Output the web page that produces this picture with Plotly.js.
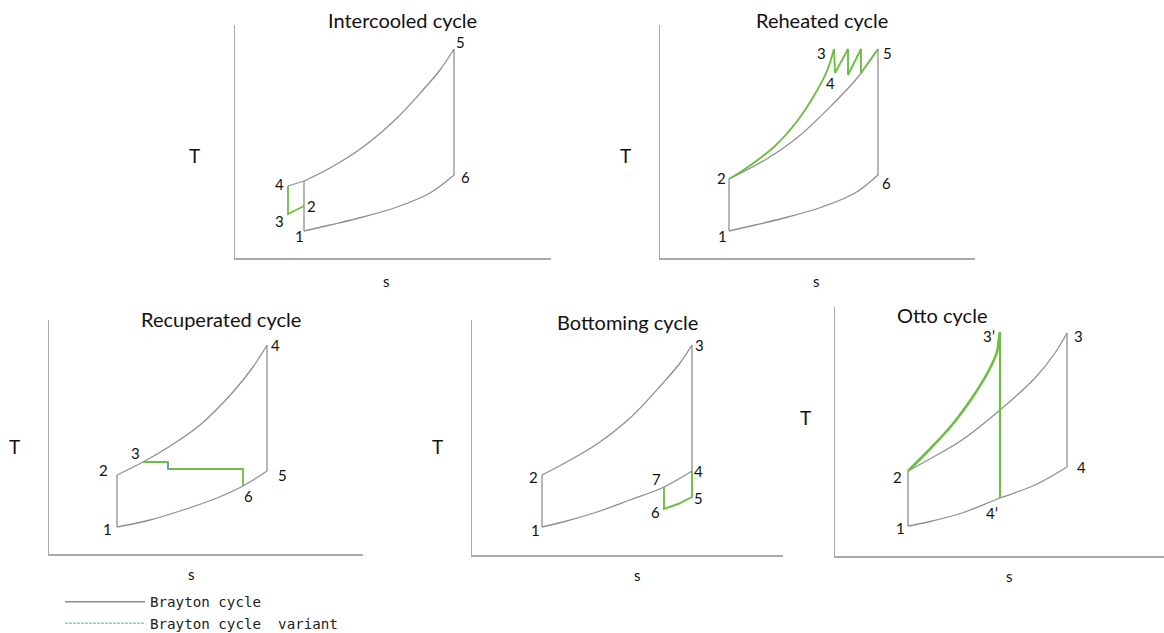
<!DOCTYPE html>
<html>
<head>
<meta charset="utf-8">
<script src="https://cdn.plot.ly/plotly-3.0.1.min.js"></script>
<style>
  html, body { margin: 0; padding: 0; background: #fff; }
  #chart { width: 1164px; height: 633px; }
</style>
</head>
<body>
<div id="chart"></div>
<script>
// ---------- Intercooled cycle (s, T in arbitrary units) ----------
const icStates = ['1', '2', '3', '4', '5', '6'];
const icS = [69, 69, 53, 53, 219, 219];
const icT = [27, 52, 44, 72, 209, 83];
const icHeatS = [69, 95, 128, 162, 188, 205, 219];
const icHeatT = [77, 90, 111, 140, 168, 188, 209];
const icRejS = [69, 95, 128, 162, 195, 219];
const icRejT = [27, 33, 41, 51, 65, 83];

// ---------- Reheated cycle ----------
const rhStates = ['1', '2', '3', '4', '5', '6'];
const rhS = [69, 69, 174, 175, 218, 218];
const rhT = [27, 79, 209, 185, 209, 83];
const rhHeatS = [69, 105, 138, 172, 198, 218];
const rhHeatT = [79, 98, 121, 153, 181, 209];
const rhRejS = [69, 95, 128, 162, 195, 218];
const rhRejT = [27, 33, 41, 51, 65, 83];
const rhBurnS = [69, 88, 115, 138, 155, 167, 174];
const rhBurnT = [79, 91, 112, 138, 164, 187, 209];
const rhZigS = [174, 175, 188, 188, 201, 201, 218];
const rhZigT = [209, 185, 209, 183, 209, 185, 209];

// ---------- Recuperated cycle ----------
const rcStates = ['1', '2', '3', '4', '5', '6'];
const rcS = [68, 68, 94, 218, 218, 194];
const rcT = [27, 79, 92, 209, 83, 68];
const rcHeatS = [68, 94, 118, 151, 184, 204, 218];
const rcHeatT = [79, 92, 106, 129, 162, 187, 209];
const rcRejS = [68, 101, 134, 168, 194, 218];
const rcRejT = [27, 34, 44, 56, 68, 83];
const rcRecupS = [94, 119, 119, 194, 194];
const rcRecupT = [92, 92, 85, 85, 68];
const rcStepS = [119, 119];
const rcStepT = [92, 85];

// ---------- Bottoming cycle ----------
const btStates = ['1', '2', '3', '4', '5', '6', '7'];
const btS = [70, 70, 220, 220, 220, 192, 192];
const btT = [28, 80, 210, 84, 58, 46, 68];
const btHeatS = [70, 91, 125, 158, 191, 208, 220];
const btHeatT = [80, 91, 111, 137, 172, 192, 210];
const btRejS = [70, 91, 125, 158, 192, 220];
const btRejT = [28, 33, 43, 55, 68, 84];
const btLoopS = [192, 192, 206, 220, 220];
const btLoopT = [68, 46, 51, 58, 84];

// ---------- Otto cycle ----------
const otStates = ['1', '2', '3', '4', '3\u2019', '4\u2019'];
const otS = [73, 73, 232, 232, 165, 165];
const otT = [30, 85, 223, 89, 224, 58];
const otHeatS = [73, 93, 127, 165, 200, 220, 232];
const otHeatT = [85, 96, 116, 146, 178, 203, 223];
const otRejS = [73, 93, 127, 165, 200, 232];
const otRejT = [30, 34, 43, 58, 71, 89];
const otCombS = [73, 93, 117, 137, 153, 162, 164, 165];
const otCombT = [85, 105, 131, 158, 184, 204, 218, 224];

const panelTitles = ['Intercooled cycle', 'Reheated cycle', 'Recuperated cycle', 'Bottoming cycle', 'Otto cycle'];
const seriesNames = ['Brayton cycle', 'Brayton cycle\u00A0 variant'];

// ---------- drawing ----------
const W = 1164, H = 633;
const GRAY = '#8f8f8f', GREEN = '#6dbd45', BLUE = '#5b9bd5';
const FONT = 'Lato, "Open Sans", sans-serif';
const traces = [];
const annotations = [];

const xid = i => (i === 1 ? 'x' : 'x' + i);
const yid = i => (i === 1 ? 'y' : 'y' + i);

function path(ax, s, T, color, width, shape) {
  traces.push({
    type: 'scatter', mode: 'lines', x: s, y: T,
    xaxis: xid(ax), yaxis: yid(ax), showlegend: false, hoverinfo: 'skip',
    line: { color: color, width: width, shape: shape || 'linear', smoothing: 1 }
  });
}
// straight segment through named states
function through(ax, S, T, names, labels, color, width) {
  const idx = labels.map(l => names.indexOf(l));
  path(ax, idx.map(i => S[i]), idx.map(i => T[i]), color, width);
}
function stateLabels(ax, S, T, names, nudge) {
  names.forEach((n, i) => {
    const d = nudge[n] || [0, 0];
    annotations.push({
      x: S[i], y: T[i], xref: xid(ax), yref: yid(ax), text: n, showarrow: false,
      xanchor: 'center', yanchor: 'middle',
      xshift: d[0], yshift: -d[1], font: { family: FONT, size: 15, color: '#111' }
    });
  });
}

// Intercooled
path(1, [icS[0], icHeatS[0]], [icT[0], icHeatT[0]], GRAY, 1.3);
path(1, icHeatS, icHeatT, GRAY, 1.3, 'spline');
through(1, icS, icT, icStates, ['5', '6'], GRAY, 1.3);
path(1, icRejS, icRejT, GRAY, 1.3, 'spline');
path(1, [icS[3], icHeatS[0]], [icT[3], icHeatT[0]], GRAY, 1.3);
through(1, icS, icT, icStates, ['2', '3', '4'], GREEN, 1.8);
stateLabels(1, icS, icT, icStates, { '1': [-5, 5], '2': [7, 0], '3': [-9, 7], '4': [-9, -2], '5': [6, -7], '6': [11, 2] });

// Reheated
through(2, rhS, rhT, rhStates, ['1', '2'], GRAY, 1.3);
path(2, rhHeatS, rhHeatT, GRAY, 1.3, 'spline');
through(2, rhS, rhT, rhStates, ['5', '6'], GRAY, 1.3);
path(2, rhRejS, rhRejT, GRAY, 1.3, 'spline');
path(2, rhBurnS, rhBurnT, GREEN, 1.9, 'spline');
path(2, rhZigS, rhZigT, GREEN, 1.9);
stateLabels(2, rhS, rhT, rhStates, { '1': [-7, 5], '2': [-8, -1], '3': [-13, 4], '4': [-5, 10], '5': [9, 4], '6': [8, 8] });

// Recuperated
through(3, rcS, rcT, rcStates, ['1', '2'], GRAY, 1.3);
path(3, rcHeatS, rcHeatT, GRAY, 1.3, 'spline');
through(3, rcS, rcT, rcStates, ['4', '5'], GRAY, 1.3);
path(3, rcRejS, rcRejT, GRAY, 1.3, 'spline');
path(3, rcRecupS, rcRecupT, GREEN, 1.8);
path(3, rcStepS, rcStepT, BLUE, 1.6);
stateLabels(3, rcS, rcT, rcStates, { '1': [-10, 2], '2': [-14, -5], '3': [-8, -9], '4': [8, 0], '5': [15, 4], '6': [5, 10] });

// Bottoming
through(4, btS, btT, btStates, ['1', '2'], GRAY, 1.3);
path(4, btHeatS, btHeatT, GRAY, 1.3, 'spline');
through(4, btS, btT, btStates, ['3', '4'], GRAY, 1.3);
path(4, btRejS, btRejT, GRAY, 1.3, 'spline');
path(4, btLoopS, btLoopT, GREEN, 1.9);
stateLabels(4, btS, btT, btStates, { '1': [-7, 3], '2': [-9, 2], '3': [7, 0], '4': [6, 0], '5': [6, 1], '6': [-9, 3], '7': [-8, -8] });

// Otto
through(5, otS, otT, otStates, ['1', '2'], GRAY, 1.3);
path(5, otHeatS, otHeatT, GRAY, 1.3, 'spline');
through(5, otS, otT, otStates, ['3', '4'], GRAY, 1.3);
path(5, otRejS, otRejT, GRAY, 1.3, 'spline');
path(5, otCombS, otCombT, GREEN, 2.6, 'spline');
through(5, otS, otT, otStates, ['3\u2019', '4\u2019'], GREEN, 2.2);
stateLabels(5, otS, otT, otStates, { '1': [-8, 2], '2': [-11, 6], '3': [11, 3], '4': [14, 0], '3\u2019': [-11, 4], '4\u2019': [-8, 15] });

// legend entries
traces.push({ type: 'scatter', mode: 'lines', x: [null], y: [null], name: seriesNames[0],
  line: { color: '#8a8a8a', width: 1.3 }, hoverinfo: 'skip' });
traces.push({ type: 'scatter', mode: 'lines', x: [null], y: [null], name: seriesNames[1],
  line: { color: '#80dc80', width: 1.5, dash: '3px,1px' }, hoverinfo: 'skip' });

// panel frames: [left, right] and [bottom, top] in page pixels
const frames = [
  [[235, 551], [258, 25]],
  [[660, 975], [258, 25]],
  [[49, 363], [554, 320]],
  [[472, 783], [555, 320]],
  [[835, 1164], [556, 307]]
];
const titlePos = [[402, 20], [822, 20], [221, 319], [627, 322], [942, 315]];
const tPos = [[194, 155], [625, 155], [14, 446], [437, 446], [805, 417]];
const sPos = [[386, 281], [816, 281], [191, 574], [637, 575], [1009, 576]];

const layout = {
  width: W, height: H, margin: { l: 0, r: 0, t: 0, b: 0, autoexpand: false },
  paper_bgcolor: '#fff', plot_bgcolor: 'rgba(0,0,0,0)',
  showlegend: true,
  legend: {
    x: 60 / W, y: 1 - 586 / H, xanchor: 'left', yanchor: 'top',
    font: { family: '"DejaVu Sans Mono", monospace', size: 14.2, color: '#222' },
    itemwidth: 80, bgcolor: 'rgba(0,0,0,0)', tracegroupgap: 0, maxheight: 120
  },
  annotations: annotations
};

const px2x = p => p / W;
const px2y = p => 1 - p / H;

frames.forEach((f, k) => {
  const i = k + 1;
  const axBase = { showline: true, linecolor: '#a9a9a9', linewidth: 1.5, showgrid: false,
    zeroline: false, showticklabels: false, ticks: '', fixedrange: true };
  layout['xaxis' + (i === 1 ? '' : i)] = Object.assign({}, axBase, {
    domain: [px2x(f[0][0]), px2x(f[0][1])], range: [0, f[0][1] - f[0][0]], anchor: yid(i)
  });
  layout['yaxis' + (i === 1 ? '' : i)] = Object.assign({}, axBase, {
    domain: [px2y(f[1][0]), px2y(f[1][1])], range: [0, f[1][0] - f[1][1]], anchor: xid(i)
  });
  const centred = { xref: 'paper', yref: 'paper', showarrow: false, xanchor: 'center', yanchor: 'middle' };
  annotations.push(Object.assign({}, centred, { x: px2x(titlePos[k][0]), y: px2y(titlePos[k][1]),
    text: panelTitles[k], font: { family: FONT, size: 20, color: '#111' } }));
  annotations.push(Object.assign({}, centred, { x: px2x(tPos[k][0]), y: px2y(tPos[k][1]),
    text: 'T', font: { family: FONT, size: 19, color: '#111' } }));
  annotations.push(Object.assign({}, centred, { x: px2x(sPos[k][0]), y: px2y(sPos[k][1]),
    text: 's', font: { family: FONT, size: 15, color: '#111' } }));
});

Plotly.newPlot('chart', traces, layout, { displayModeBar: false, staticPlot: true });
</script>
</body>
</html>
